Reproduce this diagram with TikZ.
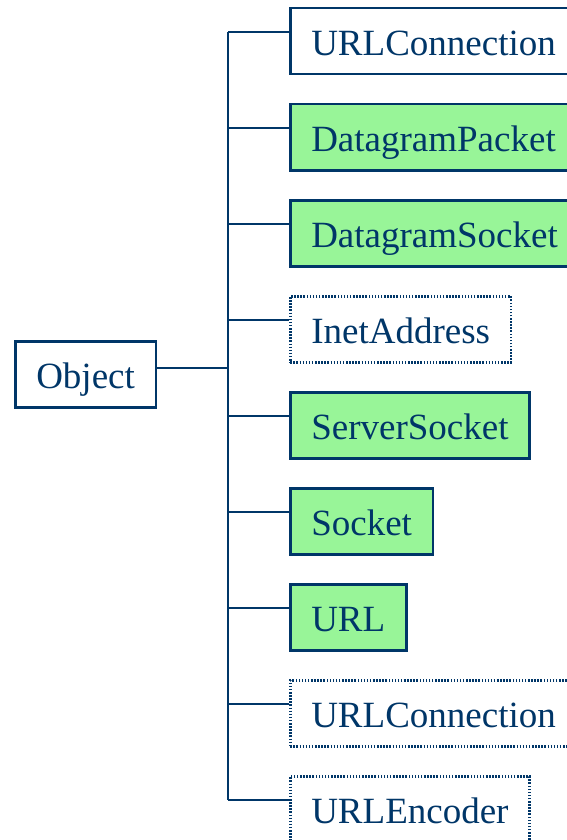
\documentclass[tikz,border=0pt]{standalone}
\usepackage{fontspec}
\setmainfont{Liberation Serif}
\definecolor{ink}{RGB}{0,54,104}
\definecolor{pgreen}{RGB}{152,245,152}
\tikzset{
  cls/.style={draw=ink, line width=2.5pt, text=ink, anchor=north west,
    inner xsep=21pt, inner ysep=0pt, text height=47pt, text depth=19pt,
    font=\fontsize{37}{40}\selectfont},
  solidbox/.style={cls, fill=white},
  greenbox/.style={cls, fill=pgreen},
  dotbox/.style={cls, fill=white, dash pattern=on 1.5pt off 1.6pt},
  link/.style={draw=ink, line width=2.5pt}
}
\begin{document}
\begin{tikzpicture}[x=1pt,y=-1pt]
\useasboundingbox (0,0) rectangle (567,840);
\clip (0,0) rectangle (567,840);
\node[solidbox] (obj) at (14,340) {Object};
\node[solidbox] (b1) at (289,7) {URLConnection};
\node[greenbox] (b2) at (289,103) {DatagramPacket};
\node[greenbox] (b3) at (289,199) {DatagramSocket};
\node[dotbox]   (b4) at (289,295) {InetAddress};
\node[greenbox] (b5) at (289,391) {ServerSocket};
\node[greenbox] (b6) at (289,487) {Socket};
\node[greenbox] (b7) at (289,583) {URL};
\node[dotbox]   (b8) at (289,679) {URLConnection};
\node[dotbox]   (b9) at (289,775) {URLEncoder};
\coordinate (t0) at (228,368);
\foreach \i/\y in {1/32,2/128,3/224,4/320,5/416,6/512,7/608,8/704,9/800}{
  \coordinate (t\i) at (228,\y);
  \draw[link] (t\i) -- (t\i -| b\i.west);
}
\draw[link] (t1) -- (t9);
\draw[link] (obj.east |- t0) -- (t0);
\end{tikzpicture}
\end{document}
